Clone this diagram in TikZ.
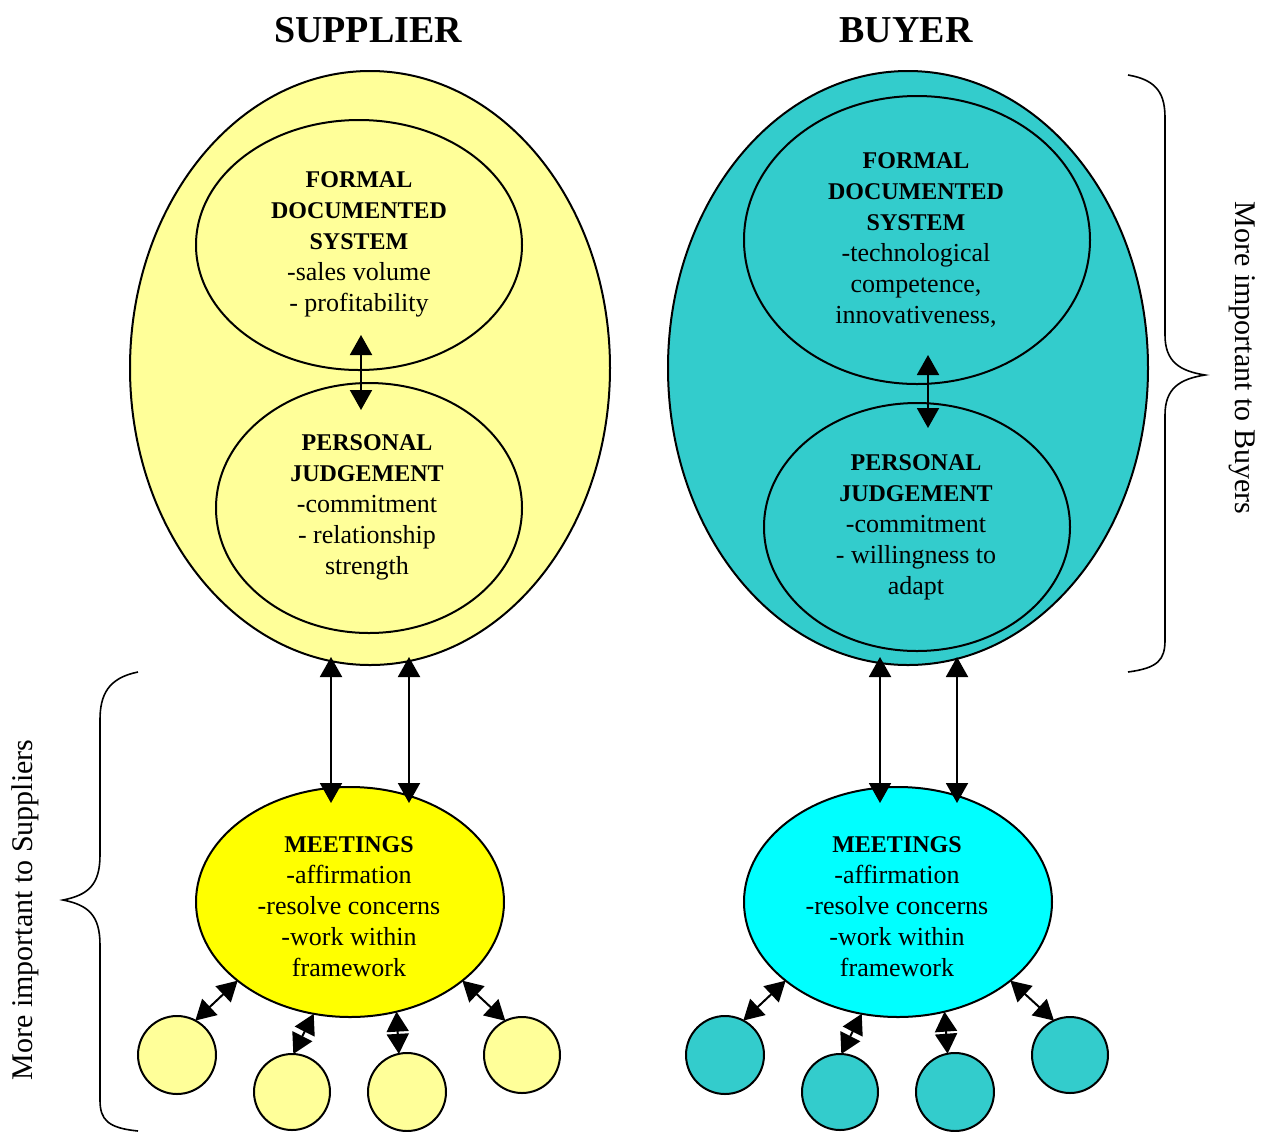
\documentclass[tikz,border=0pt]{standalone}
\usepackage{fontspec}
\setmainfont{Liberation Serif}
\usetikzlibrary{shapes.geometric,arrows.meta}
\definecolor{lyellow}{HTML}{FFFF99}
\definecolor{tealc}{HTML}{33CCCC}
\definecolor{yellowc}{HTML}{FFFF00}
\definecolor{cyanc}{HTML}{00FFFF}
\newcommand{\hd}[1]{{\fontsize{12}{15.5}\selectfont\bfseries #1}}
\begin{document}
\begin{tikzpicture}[x=0.5pt,y=-0.5pt,
  ell/.style={ellipse,draw,line width=1pt,inner sep=0pt,outer sep=0pt},
  circ/.style={circle,draw,line width=1pt,inner sep=0pt,outer sep=0pt},
  txt/.style={align=center,inner sep=0pt,font=\fontsize{13}{15.5}\selectfont},
  title/.style={font=\fontsize{19}{22}\selectfont\bfseries,inner sep=0pt},
  side/.style={font=\fontsize{15}{18}\selectfont,inner sep=0pt},
  dbl/.style={{Triangle[width=11pt,length=10pt]}-{Triangle[width=11pt,length=10pt]},line width=1pt},
  brace/.style={line width=0.8pt}]
\useasboundingbox (0,0) rectangle (1265,1131);

% titles
\node[title] (tS) at (368,30) {SUPPLIER};
\node[title] (tB) at (906,30) {BUYER};

% supplier
\node[ell,fill=lyellow,minimum width=240pt,minimum height=297pt] (bigS) at (370,368) {};
\node[ell,fill=lyellow,minimum width=163pt,minimum height=125pt] (formS) at (359,245) {};
\node[ell,fill=lyellow,minimum width=153pt,minimum height=125pt] (persS) at (369,508) {};
\node[txt] (tFS) at (359,244) {\hd{FORMAL}\\\hd{DOCUMENTED}\\\hd{SYSTEM}\\-sales volume\\- profitability};
\node[txt] (tPS) at (367,507) {\hd{PERSONAL}\\\hd{JUDGEMENT}\\-commitment\\- relationship\\strength};
\node[ell,fill=yellowc,minimum width=154pt,minimum height=115pt] (meetS) at (350,902) {};
\node[txt] (tMS) at (349,907) {\hd{MEETINGS}\\-affirmation\\-resolve concerns\\-work within\\framework};

% buyer
\node[ell,fill=tealc,minimum width=240pt,minimum height=297pt] (bigB) at (908,368) {};
\node[ell,fill=tealc,minimum width=173pt,minimum height=144pt] (formB) at (917,240) {};
\node[ell,fill=tealc,minimum width=153pt,minimum height=124pt] (persB) at (917,527) {};
\node[txt] (tFB) at (916,240) {\hd{FORMAL}\\\hd{DOCUMENTED}\\\hd{SYSTEM}\\-technological\\competence,\\innovativeness,};
\node[txt] (tPB) at (916,527) {\hd{PERSONAL}\\\hd{JUDGEMENT}\\-commitment\\- willingness to\\adapt};
\node[ell,fill=cyanc,minimum width=154pt,minimum height=115pt] (meetB) at (898,902) {};
\node[txt] (tMB) at (897,907) {\hd{MEETINGS}\\-affirmation\\-resolve concerns\\-work within\\framework};

% small circles
\node[circ,fill=lyellow,minimum size=39pt] (c1) at (177,1055) {};
\node[circ,fill=lyellow,minimum size=38pt] (c2) at (292,1092) {};
\node[circ,fill=lyellow,minimum size=39pt] (c3) at (407,1092) {};
\node[circ,fill=lyellow,minimum size=38pt] (c4) at (522,1055) {};
\node[circ,fill=tealc,minimum size=39pt] (c5) at (725,1055) {};
\node[circ,fill=tealc,minimum size=38pt] (c6) at (840,1092) {};
\node[circ,fill=tealc,minimum size=39pt] (c7) at (955,1092) {};
\node[circ,fill=tealc,minimum size=38pt] (c8) at (1070,1055) {};

% inner arrows
\draw[dbl] ([xshift=1pt,yshift=17.5pt]formS.south) -- ([xshift=-4pt,yshift=-13.5pt]persS.north);
\draw[dbl] ([xshift=5.5pt,yshift=14.5pt]formB.south) -- ([xshift=5.5pt,yshift=-12.5pt]persB.north);

% big to meetings
\draw[dbl] ([xshift=-19.5pt,yshift=4pt]bigS.south) -- ([xshift=-9.5pt,yshift=-8pt]meetS.north);
\draw[dbl] ([xshift=19.5pt,yshift=4pt]bigS.south) -- ([xshift=29.5pt,yshift=-8pt]meetS.north);
\draw[dbl] ([xshift=-14pt,yshift=4pt]bigB.south) -- ([xshift=-9pt,yshift=-8pt]meetB.north);
\draw[dbl] ([xshift=24.5pt,yshift=4pt]bigB.south) -- ([xshift=29.5pt,yshift=-8pt]meetB.north);

% small arrows
\draw[dbl] (c1.62) -- (meetS.215);
\draw[dbl] (c2.88) -- (meetS.-108);
\draw[dbl] (c3.102) -- (meetS.-67);
\draw[dbl] (c4.116) -- (meetS.-35);
\draw[dbl] (c5.62) -- (meetB.215);
\draw[dbl] (c6.88) -- (meetB.-108);
\draw[dbl] (c7.101) -- (meetB.-67);
\draw[dbl] (c8.115) -- (meetB.-35);

% braces
\draw[brace] (138,672) .. controls (108,678) and (100,695) .. (100,720) -- (100,855)
  .. controls (100,885) and (88,895) .. (63,900)
  .. controls (88,905) and (100,915) .. (100,945) -- (100,1100)
  .. controls (100,1120) and (108,1128) .. (138,1131);
\draw[brace] (1128,75) .. controls (1158,80) and (1165,95) .. (1165,118) -- (1165,335)
  .. controls (1165,362) and (1180,371) .. (1205,375)
  .. controls (1180,379) and (1165,388) .. (1165,415) -- (1165,640)
  .. controls (1165,660) and (1158,668) .. (1128,672);

\node[side,rotate=90] (lS) at (25,910) {More important to Suppliers};
\node[side,rotate=-90] (lB) at (1242,358) {More important to Buyers};
\end{tikzpicture}
\end{document}
